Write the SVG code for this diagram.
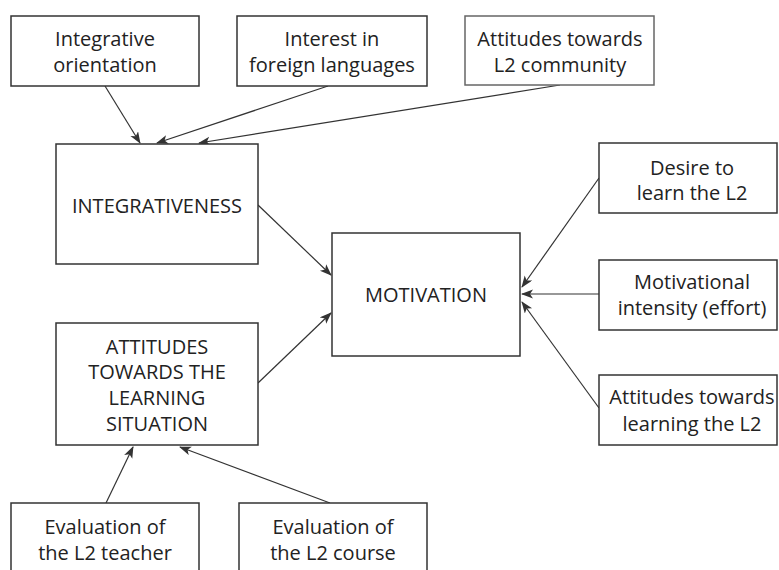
<svg xmlns="http://www.w3.org/2000/svg" width="779" height="570" viewBox="0 0 779 570">
<style>
rect{fill:#fff;stroke:#333;stroke-width:1.5}
text{font-family:"Open Sans","Noto Sans","DejaVu Sans",sans-serif;font-size:20px;fill:#222;text-anchor:middle}
.c line{stroke:#333;stroke-width:1.2;marker-end:url(#ah)}
</style>
<defs>
<marker id="ah" markerWidth="12" markerHeight="10" refX="11" refY="4.5" orient="auto" markerUnits="userSpaceOnUse">
<path d="M0,0 L12,4.5 L0,9 L3,4.5 z" fill="#333"/>
</marker>
</defs>
<g class="c" id="connectors">
<line x1="105" y1="86" x2="140" y2="143"/>
<line x1="328" y1="86" x2="157" y2="143"/>
<line x1="560" y1="85" x2="199" y2="143"/>
<line x1="258" y1="205" x2="331" y2="275"/>
<line x1="258" y1="383" x2="331" y2="313"/>
<line x1="599" y1="178" x2="522" y2="287"/>
<line x1="599" y1="294" x2="522" y2="294"/>
<line x1="599" y1="408" x2="522" y2="302"/>
<line x1="106" y1="503" x2="133" y2="447"/>
<line x1="330" y1="503" x2="180" y2="447"/>
</g>
<g id="integrative-orientation"><rect x="11" y="16" width="188" height="70"/><text x="105" y="46">Integrative</text><text x="105" y="72">orientation</text></g>
<g id="interest"><rect x="237" y="16" width="190" height="70"/><text x="332" y="46">Interest in</text><text x="332" y="72">foreign languages</text></g>
<g id="attitudes-community"><rect x="465" y="16" width="189" height="69" style="stroke:#666"/><text x="560" y="46">Attitudes towards</text><text x="560" y="72">L2 community</text></g>
<g id="integrativeness"><rect x="56" y="144" width="202" height="120"/><text x="157" y="213">INTEGRATIVENESS</text></g>
<g id="attitudes-situation"><rect x="56" y="323" width="202" height="122"/><text x="157" y="354">ATTITUDES</text><text x="157" y="379">TOWARDS THE</text><text x="157" y="405">LEARNING</text><text x="157" y="431">SITUATION</text></g>
<g id="motivation"><rect x="332" y="233" width="188" height="123"/><text x="426" y="302">MOTIVATION</text></g>
<g id="desire"><rect x="599" y="143" width="178" height="70"/><text x="692" y="175">Desire to</text><text x="692" y="200">learn the L2</text></g>
<g id="intensity"><rect x="599" y="260" width="178" height="70"/><text x="692" y="289">Motivational</text><text x="692" y="315">intensity (effort)</text></g>
<g id="attitudes-learning"><rect x="599" y="375" width="178" height="70"/><text x="692" y="404">Attitudes towards</text><text x="692" y="431">learning the L2</text></g>
<g id="eval-teacher"><rect x="11" y="503" width="188" height="80"/><text x="105" y="534">Evaluation of</text><text x="105" y="560">the L2 teacher</text></g>
<g id="eval-course"><rect x="239" y="503" width="188" height="80"/><text x="333" y="534">Evaluation of</text><text x="333" y="560">the L2 course</text></g>
</svg>
